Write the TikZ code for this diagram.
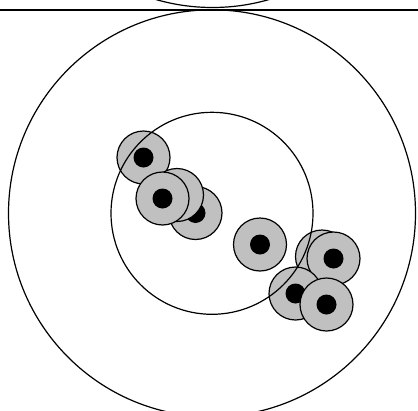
\documentclass[tikz,border=0pt]{standalone}
\usepackage{tikz}
\usepackage{xcolor}
\definecolor{shotgray}{HTML}{C0C0C0}
\tikzset{
  ring/.style={draw=black, line width=1.2pt},
  rim/.style={draw=black, line width=2pt},
  shot/.style={circle, draw=black, line width=1.2pt, fill=shotgray, minimum size=53pt, inner sep=0pt,
    path picture={\fill[black] (path picture bounding box.center) circle[radius=10pt];}}
}
\begin{document}
\begin{tikzpicture}[x=1pt, y=-1pt]
  \useasboundingbox (0,0) rectangle (418,410);
  \clip (0,0) rectangle (418,410);

  % shots, upper left group
  \node[shot] (a) at (143.5,157.5) {};
  \node[shot] (d) at (195.5,213) {};
  \node[shot] (c) at (177,195) {};
  \node[shot] (b) at (162.5,198.5) {};

  % shots, lower right group
  \node[shot] (e) at (260,244.5) {};
  \node[shot] (f) at (322,256.5) {};
  \node[shot] (g) at (333.5,258.5) {};
  \node[shot] (h) at (295.5,293.5) {};
  \node[shot] (i) at (326.5,304.5) {};

  % target rings
  \coordinate (centre) at (212,213.3);
  \draw[ring] (centre) circle[radius=101];
  \draw[ring] (centre) circle[radius=203.5];

  % neighbouring target above and dividing line
  \coordinate (upper) at (212.5,-196);
  \draw[ring] (upper) circle[radius=203.5];
  \coordinate (left) at (0,10);
  \coordinate (right) at (418,10);
  \draw[rim] (left) -- (right);
\end{tikzpicture}
\end{document}
